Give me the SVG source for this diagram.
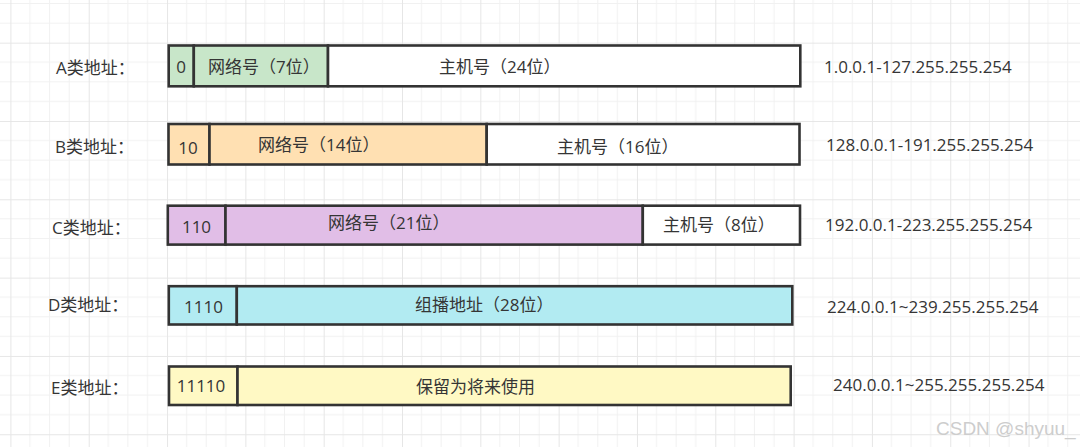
<svg xmlns="http://www.w3.org/2000/svg" width="1080" height="447" viewBox="0 0 1080 447">
<style>
.t{font-family:"Open Sans","Noto Sans CJK SC",sans-serif;font-size:17px;fill:#353535}
.m{text-anchor:middle}
.b{stroke:#333;stroke-width:2.6}
.wm{font-family:"Liberation Sans",Arial,sans-serif;font-size:19px;fill:#cdcdcd}
</style>
<defs>
<pattern id="grid" patternUnits="userSpaceOnUse" x="10.4" y="42.66" width="78.32" height="78.32">
<path d="M19.58 0V78.32M39.16 0V78.32M58.74 0V78.32M0 19.58H78.32M0 39.16H78.32M0 58.74H78.32" stroke="#f1f1f1" stroke-width="1" fill="none"/>
<path d="M0.5 0V78.32M0 0.5H78.32" stroke="#e6e6e6" stroke-width="1" fill="none"/>
</pattern>
</defs>
<rect width="1080" height="447" fill="#ffffff"/>
<rect width="1080" height="447" fill="url(#grid)"/>

<g id="rowA">
<text class="t" x="56" y="74.3">A类地址：</text>
<rect class="b" x="168.7" y="45.5" width="25.1" height="40.8" fill="#c8e6c9"/>
<rect class="b" x="193.8" y="45.5" width="134.2" height="40.8" fill="#c8e6c9"/>
<rect class="b" x="328" y="45.5" width="472.3" height="40.8" fill="#ffffff"/>
<text class="t m" x="181" y="72.7">0</text>
<text class="t" x="208" y="72.7">网络号（7位）</text>
<text class="t" x="439" y="73.3">主机号（24位）</text>
<text class="t" x="824" y="72.7">1.0.0.1-127.255.255.254</text>
</g>

<g id="rowB">
<text class="t" x="55" y="152.7">B类地址：</text>
<rect class="b" x="168.5" y="124" width="41" height="40.5" fill="#ffe0b2"/>
<rect class="b" x="209.5" y="124" width="277.2" height="40.5" fill="#ffe0b2"/>
<rect class="b" x="486.7" y="124" width="312.8" height="40.5" fill="#ffffff"/>
<text class="t m" x="188" y="153.7">10</text>
<text class="t" x="258" y="151">网络号（14位）</text>
<text class="t" x="557" y="152.7">主机号（16位）</text>
<text class="t" x="826" y="151">128.0.0.1-191.255.255.254</text>
</g>

<g id="rowC">
<text class="t" x="52" y="234">C类地址：</text>
<rect class="b" x="167.8" y="205.7" width="57.7" height="38.9" fill="#e1bee7"/>
<rect class="b" x="225.5" y="205.7" width="417.3" height="38.9" fill="#e1bee7"/>
<rect class="b" x="642.8" y="205.7" width="157.2" height="38.9" fill="#ffffff"/>
<text class="t m" x="196.5" y="232.7">110</text>
<text class="t" x="328" y="229.3">网络号（21位）</text>
<text class="t" x="663" y="231">主机号（8位）</text>
<text class="t" x="825" y="231">192.0.0.1-223.255.255.254</text>
</g>

<g id="rowD">
<text class="t" x="48" y="311">D类地址：</text>
<rect class="b" x="168.8" y="286.2" width="68" height="38.3" fill="#b2ebf2"/>
<rect class="b" x="236.8" y="286.2" width="555.5" height="38.3" fill="#b2ebf2"/>
<text class="t m" x="203.5" y="312.7">1110</text>
<text class="t" x="415" y="311">组播地址（28位）</text>
<text class="t" x="827" y="312.7">224.0.0.1~239.255.255.254</text>
</g>

<g id="rowE">
<text class="t" x="51" y="394">E类地址：</text>
<rect class="b" x="169" y="366.5" width="68.5" height="38.5" fill="#fff9c4"/>
<rect class="b" x="237.5" y="366.5" width="553.2" height="38.5" fill="#fff9c4"/>
<text class="t m" x="201" y="392">11110</text>
<text class="t" x="416" y="392.7">保留为将来使用</text>
<text class="t" x="833" y="391">240.0.0.1~255.255.255.254</text>
</g>

<g id="connectors"/>

<text class="wm" x="936" y="435">CSDN @shyuu_</text>
</svg>
